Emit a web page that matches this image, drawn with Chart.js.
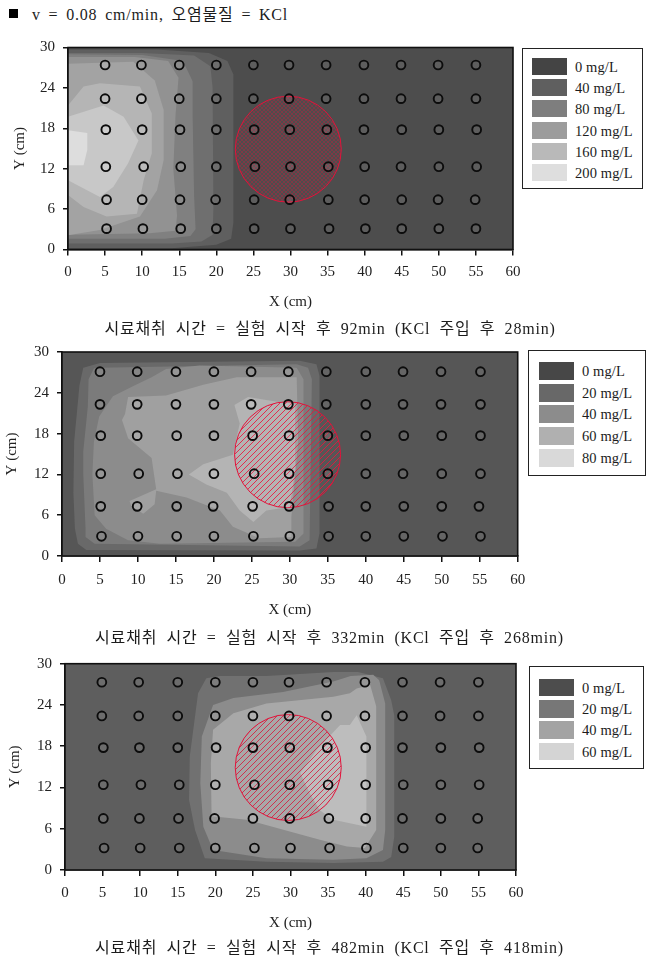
<!DOCTYPE html>
<html><head><meta charset="utf-8">
<script src="https://cdn.jsdelivr.net/npm/chart.js@4/dist/chart.umd.js"></script>
<style>
html,body{margin:0;padding:0;background:#fff}
#page{position:relative;width:656px;height:965px;overflow:hidden;font-family:"Liberation Serif","Noto Sans CJK KR",serif;color:#1c1c1c}
canvas{position:absolute;left:0}
.cap{position:absolute;white-space:nowrap;font-size:16px;line-height:18px;letter-spacing:.8px;word-spacing:4.5px;transform:translateX(-50%)}
.lg{position:absolute;box-sizing:border-box;border:1.3px solid #222;background:#fff}
.sw{position:absolute}
.lt{position:absolute;font-size:14.5px;line-height:18px;white-space:nowrap;letter-spacing:.1px}
#sq{position:absolute;left:9px;top:9px;width:9px;height:9px;background:#000}
#head{position:absolute;left:32px;top:5px;font-size:16px;line-height:20px;white-space:nowrap;letter-spacing:.8px;word-spacing:3px}
</style></head><body>
<div id="page">
<div id="sq"></div><div id="head"></div>
<canvas id="c1" width="656" height="290" style="top:30px;width:656px;height:290px"></canvas>
<canvas id="c2" width="656" height="290" style="top:335px;width:656px;height:290px"></canvas>
<canvas id="c3" width="656" height="295" style="top:645px;width:656px;height:295px"></canvas>
</div>
<script>
const headText = "v = 0.08 cm/min, 오염물질 = KCl";
const captions = [
  "시료채취 시간 = 실험 시작 후 92min (KCl 주입 후 28min)",
  "시료채취 시간 = 실험 시작 후 332min (KCl 주입 후 268min)",
  "시료채취 시간 = 실험 시작 후 482min (KCl 주입 후 418min)"
];
const xTicks = [0,5,10,15,20,25,30,35,40,45,50,55,60];
const yTicks = [0,6,12,18,24,30];
const xTitle = "X (cm)";
const yTitle = "Y (cm)";

const legend1Labels = ["0 mg/L","40 mg/L","80 mg/L","120 mg/L","160 mg/L","200 mg/L"];
const legend1Colors = ["#444444","#5f5f5f","#7e7e7e","#9c9c9c","#b9b9b9","#dedede"];
const legend2Labels = ["0 mg/L","20 mg/L","40 mg/L","60 mg/L","80 mg/L"];
const legend2Colors = ["#474747","#686868","#8c8c8c","#b0b0b0","#d9d9d9"];
const legend3Labels = ["0 mg/L","20 mg/L","40 mg/L","60 mg/L"];
const legend3Colors = ["#4d4d4d","#777777","#a3a3a3","#d4d4d4"];

const plotExtent = [[0,0],[60,0],[60,30],[0,30]];

/* contour bands, outermost first, in cm */
const bands1Colors = ["#4d4d4d","#5f5f5f","#6f6f6f","#808080","#929292","#a3a3a3","#b5b5b5","#c8c8c8","#dddddd"];
const bands1 = [
  plotExtent,
  [[0,0.2],[14,0.2],[20,0.7],[22,1.6],[22.3,4],[22.3,26],[21.5,28],[19,29.2],[12,29.7],[0,29.7]],
  [[0,0.9],[14,0.9],[18,1.2],[19.5,2.2],[19.6,6],[19.5,24],[19.2,27.2],[17,28.8],[10,29.2],[0,29.2]],
  [[0,1.6],[13,1.6],[16.5,2],[17.2,3],[17,8],[16.8,20],[16.8,25],[15.5,28],[10,28.9],[0,29]],
  [[0,2.2],[11,2.4],[14.5,2.8],[14.7,5],[14.2,12],[14.5,20],[14.9,25.5],[13.5,28],[9,28.6],[0,28.6]],
  [[0,2.1],[4.3,2.9],[9.7,4.9],[12,8.8],[12.9,13.3],[12.9,20.7],[11.7,25.1],[8.8,27.9],[0,27.6]],
  [[0,8.1],[2.1,6.3],[5.2,4.9],[9.3,5.3],[10.2,10.3],[11.3,14.3],[11.3,20.2],[9.7,24.2],[4.3,24.7],[2.1,24.2],[0,21.4]],
  [[0,10.3],[4.3,7.8],[6.1,9.3],[8.1,12.8],[9.5,16.2],[7.5,19.7],[4.8,21.4],[0,19.7]],
  [[0,12.5],[2.1,12.5],[2.6,14.8],[2.6,17.3],[0,17.7]]
];
const bands2Colors = ["#565656","#696969","#7b7b7b","#8c8c8c","#a0a0a0","#b4b4b4"];
const bands2 = [
  plotExtent,
  [[2.1,1.8],[3.2,0.9],[31.3,0.8],[33.5,1.1],[33.9,3.3],[33.9,26.5],[33.5,28.2],[31.3,28.7],[5,28.4],[2.8,27.7],[2.3,25.1],[1.6,16.8],[1.5,9.3],[1.7,4]],
  [[3.1,2.8],[4.3,1.8],[31.3,1.4],[32.6,2.3],[32.9,26],[32.4,27.7],[30.9,28.2],[5,27.7],[4.2,27.6],[3.5,26],[3.4,22],[2.8,15.4],[2.8,12],[3.1,4]],
  [[4.3,6],[5.8,4],[8.7,2.3],[12.9,1.8],[30.7,2.1],[31.8,3.3],[31.8,26],[30.9,27.7],[18.1,28],[13.7,27.5],[11.8,26.3],[9.4,25],[6.7,23.5],[4.9,20.5],[4.2,16.8],[4,12]],
  [[8.3,20.9],[8.7,23.4],[13.7,23.6],[18.6,25.2],[23,26.3],[30.9,26.3],[31.1,16.8],[30.2,5.7],[30.2,2.8],[26,2.6],[22.5,4.3],[20.8,6.7],[16.4,8.6],[12.4,9.6],[12.2,7.6],[10.7,6.2],[9.1,7.4],[8.9,8.1],[12.4,9.8],[11.8,14.4],[8.7,17.3],[7.9,20]],
  [[22.7,22.2],[24.5,23.4],[28.7,22.6],[30.7,22.4],[30.7,12.6],[30,7.2],[26.9,6.7],[25.2,5],[23.4,6.7],[21.7,9.3],[19,10.5],[16.7,12],[18.6,13.5],[22.5,14.9],[23.4,19.5]]
];
const bands3Colors = ["#5e5e5e","#717171","#8c8c8c","#a8a8a8","#bdbdbd"];
const bands3 = [
  plotExtent,
  [[18.6,1.7],[26.8,1.2],[35.7,1],[42.3,1.2],[43.4,1.9],[43.8,4.8],[43.8,22.5],[43.4,24.7],[42.3,27.9],[39,28.8],[35.7,28.8],[26.8,28.2],[20.6,28.2],[18.8,27.9],[17.7,25.7],[16.6,16.5],[16.5,10.2],[17.3,5.8]],
  [[18.4,6.3],[19.7,2.9],[26.8,1.7],[35.7,1.5],[40.1,1.7],[42.3,2.9],[42.6,5.8],[42.6,24.2],[41.8,27.6],[41,28.4],[38,28.2],[35.7,27.4],[29,25.9],[22.4,25],[19.7,24],[18.2,19.4],[18,12.6]],
  [[19.5,7.8],[24.2,7.3],[29.9,5.6],[33.9,4.4],[37.5,3.4],[39.9,3.2],[41.4,5.8],[41.4,23.8],[40.6,26.9],[38.8,26.4],[37.9,25.7],[35.7,25.2],[26.8,24.2],[22.4,22.8],[19.7,20.4],[19.4,15.5]],
  [[38.8,22.5],[40.1,19.4],[40.1,6.3],[35.7,7.3],[33.9,8.7],[32.6,11.1],[31.3,14.1],[33.5,17.5],[36.6,21.1],[37.9,21.1]]
];

/* sampling ports: one y per row, x read for every port in that row */
const ports1Y = [27.4,22.4,17.8,12.3,7.4,3.1];
const ports1X = [
  [5,9.9,15,20,25,29.8,34.8,39.9,44.9,49.9,55],
  [5,9.9,15,20,25,29.8,34.8,39.9,44.9,49.9,55],
  [5.1,10,15.1,20,25.1,29.9,34.9,39.9,45,50,55.1],
  [5.1,10.2,15.2,20,25.2,30,35.1,40,44.9,50,55.1],
  [5.2,10,15.1,19.9,25.1,29.9,35.1,40,45,49.9,54.9],
  [5.2,10.1,15.2,20,25.1,30,35.2,40.1,45,50,55]
];
const ports2Y = [27.1,22.3,17.7,12.1,7.3,2.9];
const ports2X = [
  [5,9.9,15,20,24.9,29.8,34.8,40,44.9,49.9,55.1],
  [5,9.9,15,20,24.9,29.8,34.8,40,44.9,49.9,55.1],
  [5.1,9.9,15.1,20,25.1,29.9,35,40,45,50,55.1],
  [5.1,10.1,15.2,20,25.3,29.9,35,40,44.9,50,55.1],
  [5.1,9.9,15.1,19.9,25.1,29.9,35.1,40,45,50,54.9],
  [5.2,10,15.1,20,25.2,30,35.1,40,45,50.1,55.1]
];
const ports3Y = [27.3,22.4,17.8,12.4,7.5,3.2];
const ports3X = [
  [4.9,9.8,15,20,25,29.8,34.8,39.9,44.9,49.9,55],
  [4.9,9.8,15,20,25,29.8,34.8,39.9,44.9,49.9,55],
  [5.1,9.9,15,20.1,25,29.9,34.9,40,44.9,50,55.1],
  [5.1,10.1,15.2,20,25.2,29.9,35,40,45,50,55.1],
  [5.1,9.9,15.1,19.9,25,29.9,35.1,40,44.9,50,54.9],
  [5.2,10,15.2,20,25.2,30,35.2,40.1,45,50,54.9]
];
const zoneCentre = [29.7,14.9];

/* build */
const FONT = '"Liberation Serif","Noto Sans CJK KR",serif';
function hatch(color, size, width, cross){
  const c = document.createElement('canvas'); c.width = c.height = size;
  const g = c.getContext('2d'); g.strokeStyle = color; g.lineWidth = width;
  const seg = (a,b,d,e)=>{g.beginPath();g.moveTo(a,b);g.lineTo(d,e);g.stroke();};
  seg(-1,size+1,size+1,-1); seg(-1,1,1,-1); seg(size-1,size+1,size+1,size-1);
  if(cross){ seg(-1,-1,size+1,size+1); seg(-1,size-1,1,size+1); seg(size-1,-1,size+1,1); }
  return g.createPattern(c,'repeat');
}
const framePlugin = {id:'frame',afterDatasetsDraw(ch){
  const a = ch.chartArea, g = ch.ctx; g.save(); g.strokeStyle='#111'; g.lineWidth=1.6;
  g.strokeRect(a.left,a.top,a.right-a.left,a.bottom-a.top); g.restore();
}};
function draw(cfg){
  const ds = [];
  ds.push({data:cfg.portsY.flatMap((y,i)=>cfg.portsX[i].map(x=>({x,y}))),order:1,showLine:false,
    pointRadius:4.4,pointBorderWidth:1.9,pointBorderColor:'#0c0c0c',pointBackgroundColor:'rgba(255,255,255,.09)'});
  ds.push({data:[{x:zoneCentre[0],y:zoneCentre[1]}],order:2,showLine:false,pointRadius:53,pointBorderWidth:1,
    pointBorderColor:'#e3123a',pointBackgroundColor:cfg.pattern});
  cfg.bands.forEach((b,i)=>ds.push({data:b.map(p=>({x:p[0],y:p[1]})),order:100-i,showLine:true,fill:'shape',
    backgroundColor:cfg.colors[i],borderWidth:0,pointRadius:0,tension:0}));
  new Chart(document.getElementById(cfg.id),{
    type:'scatter',
    data:{datasets:ds},
    plugins:[framePlugin],
    options:{responsive:false,animation:false,events:[],
      layout:{autoPadding:false,padding:cfg.padding},
      plugins:{legend:{display:false},tooltip:{enabled:false},title:{display:false}},
      scales:{
        x:{type:'linear',min:0,max:60,afterBuildTicks:s=>{s.ticks=xTicks.map(v=>({value:v}));},
          afterFit:s=>{s.height=cfg.xH;},
          grid:{drawOnChartArea:false,drawTicks:true,tickLength:6,color:'#111',lineWidth:1.5},
          border:{color:'#111',width:1.6},
          ticks:{padding:cfg.xPad,maxRotation:0,autoSkip:false,color:'#222',font:{family:FONT,size:15}},
          title:{display:true,text:xTitle,color:'#222',padding:0,font:{family:FONT,size:15}}},
        y:{type:'linear',min:0,max:30,afterBuildTicks:s=>{s.ticks=yTicks.map(v=>({value:v}));},
          afterFit:s=>{s.width=cfg.yW;},
          grid:{drawOnChartArea:false,drawTicks:true,tickLength:5,color:'#111',lineWidth:1.5},
          border:{color:'#111',width:1.6},
          ticks:{padding:8,autoSkip:false,color:'#222',font:{family:FONT,size:15}},
          title:{display:true,text:yTitle,color:'#222',padding:{top:cfg.yTitlePad,bottom:0},font:{family:FONT,size:15}}}
      }}
  });
}
function legend(box,labels,colors,sw){
  const d=document.createElement('div');d.className='lg';
  d.style.cssText=`left:${box[0]}px;top:${box[1]}px;width:${box[2]}px;height:${box[3]}px`;
  labels.forEach((t,i)=>{
    const s=document.createElement('div');s.className='sw';
    s.style.cssText=`left:${sw.x-box[0]}px;top:${sw.y+i*sw.step-box[1]}px;width:35px;height:${sw.h}px;background:${colors[i]}`;
    const l=document.createElement('div');l.className='lt';l.textContent=t;
    l.style.cssText=`left:${sw.x+43-box[0]}px;top:${sw.y+i*sw.step-box[1]}px`;
    d.append(s,l);
  });
  document.getElementById('page').append(d);
}
function caption(i,cx,top){
  const d=document.createElement('div');d.className='cap';d.textContent=captions[i];
  d.style.left=cx+'px';d.style.top=top+'px';document.getElementById('page').append(d);
}
document.getElementById('head').textContent=headText;
draw({id:'c1',bands:bands1,colors:bands1Colors,portsX:ports1X,portsY:ports1Y,
  pattern:hatch('rgba(205,25,60,.38)',4,1,true),
  padding:{left:0,right:143,top:17.5,bottom:9},xH:61.5,yW:68,xPad:7.5,yTitlePad:11.5});
draw({id:'c2',bands:bands2,colors:bands2Colors,portsX:ports2X,portsY:ports2Y,
  pattern:hatch('rgba(235,20,60,.85)',6,1,false),
  padding:{left:0,right:138.3,top:14.5,bottom:5.5},xH:63.5,yW:62,xPad:9.5,yTitlePad:3.5});
draw({id:'c3',bands:bands3,colors:bands3Colors,portsX:ports3X,portsY:ports3Y,
  pattern:hatch('rgba(215,20,55,.8)',6,1,false),
  padding:{left:0,right:140,top:18.7,bottom:8},xH:62,yW:65,xPad:8.5,yTitlePad:6.5});
legend([522,47.5,121,141.5],legend1Labels,legend1Colors,{x:531,y:57,step:21.2,h:17});
legend([528,349.5,117.5,126.5],legend2Labels,legend2Colors,{x:538,y:361,step:21.7,h:18});
legend([529,666,115,103],legend3Labels,legend3Colors,{x:538,y:677.7,step:21.3,h:17.5});
caption(0,330,320);caption(1,329.5,628.5);caption(2,329.5,939);
</script>
</body></html>
